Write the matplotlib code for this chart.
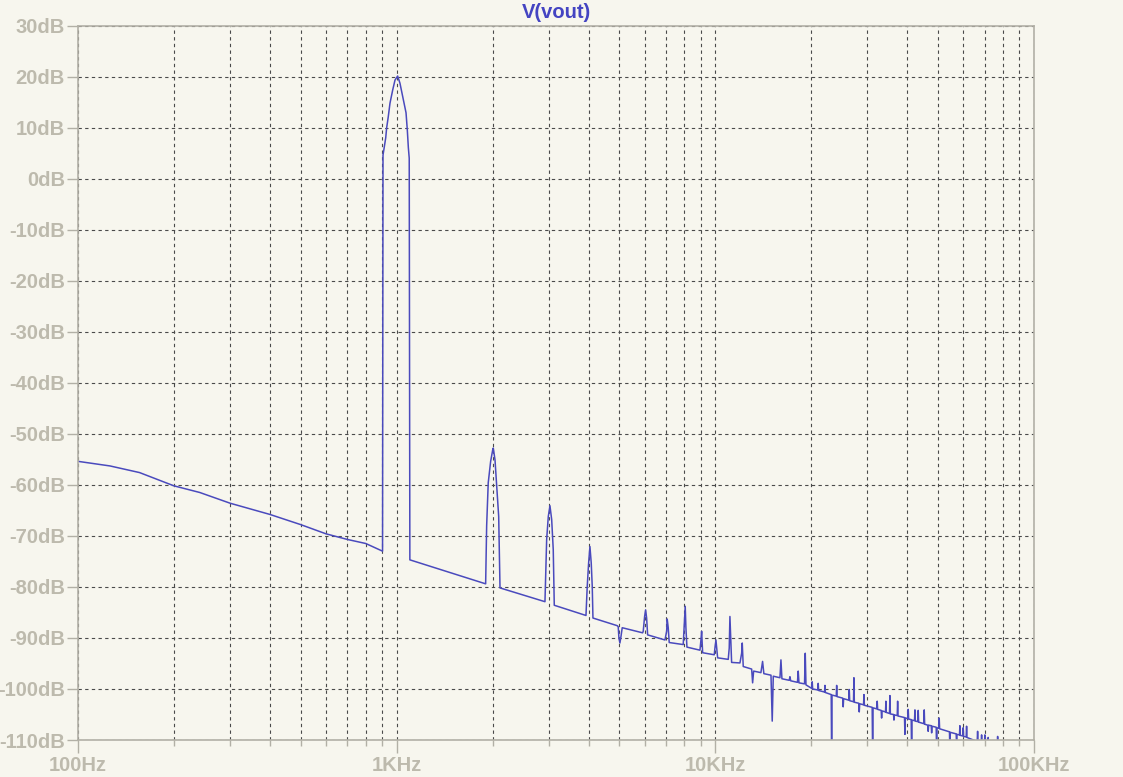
import matplotlib
matplotlib.use("Agg")
import matplotlib.pyplot as plt
import numpy as np
from matplotlib.ticker import NullLocator

BG = "#F7F6EE"
AXIS = "#B2B0A6"
LABEL = "#BDBAAD"
TRACE = "#4A4ABD"
TITLE = "#4444C2"
GRID = "#4A4A4A"

plt.rcParams['font.family'] = ['Liberation Sans', 'DejaVu Sans']
plt.rcParams['font.weight'] = 'bold'

# FFT of V(vout): fundamental at 1kHz plus harmonics
# low band up to the carrier, carrier, then harmonics 2..12
main_freq = [
    100, 126, 156, 200, 241, 300, 400, 500, 600, 700, 800, 903,
    906, 924, 930, 941, 953, 972, 988, 1007, 1024, 1044, 1070, 1080, 1088, 1095, 1100,
    1902, 1916, 1938, 1972, 2001, 2010, 2035, 2060, 2090, 2110,
    2920, 2956, 2991, 3027, 3065, 3100, 3123,
    3927, 3963, 4003, 4041, 4079, 4109, 4130,
    4922, 4957, 4982, 5018, 5055, 5103,
    5913, 5939, 5999, 6043, 6087, 6131,
    6949, 7034, 7063, 7115, 7166,
    7929, 7986, 8045, 8085, 8145,
    8948, 9013, 9057, 9124,
    9922, 9970, 10044, 10167,
    10977, 11056, 11112, 11249,
    11947, 12094, 12147, 12234,
    13000, 13092, 13189,
    13900, 14069, 14200,
    14950, 15084, 15200,
    15950, 16065, 16180,
    17050, 17144, 17240,
    18100, 18200, 18300,
    19050, 19150, 19250,
]
main_db = [
    -55.4, -56.3, -57.6, -60.2, -61.5, -63.6, -65.8, -67.8, -69.6, -70.7, -71.5, -73.0,
    4.6, 8.0, 9.9, 12.1, 14.8, 17.4, 19.3, 20.1, 18.7, 16.1, 12.9, 9.5, 6.1, 4.0, -74.7,
    -79.4, -68.0, -59.6, -55.4, -53.2, -52.8, -55.1, -60.3, -66.2, -80.2,
    -82.9, -70.7, -66.2, -64.1, -66.8, -72.7, -83.6,
    -85.6, -79.9, -75.3, -72.1, -75.3, -79.9, -86.1,
    -87.6, -87.8, -90.0, -91.0, -89.8, -88.0,
    -89.0, -88.7, -85.8, -84.5, -86.1, -89.4,
    -90.4, -88.7, -86.3, -88.0, -90.9,
    -91.3, -87.7, -83.8, -88.0, -91.8,
    -92.4, -90.4, -88.7, -92.9,
    -93.3, -92.0, -90.4, -93.9,
    -94.2, -92.0, -85.8, -94.8,
    -94.9, -93.0, -91.0, -95.6,
    -96.1, -98.8, -96.5,
    -96.8, -94.6, -97.0,
    -97.3, -106.3, -97.5,
    -97.8, -94.3, -98.0,
    -98.3, -97.6, -98.4,
    -98.7, -96.5, -98.8,
    -99.0, -93.0, -99.2,
]

# high band: noise floor with single-bin spikes
hf_freq = [
    20080, 20140, 20200, 20970, 21030, 21090, 22010, 22080, 22150,
    23100, 23170, 23240, 23960, 24030, 24100, 25110, 25190, 25270,
    26240, 26320, 26400, 27140, 27220, 27300, 28200, 28290, 28380,
    29180, 29270, 29360, 31060, 31160, 31260, 32110, 32210, 32310,
    33150, 33250, 33350, 34200, 34300, 34400, 35200, 35310, 35420,
    36240, 36350, 36460, 37220, 37330, 37440, 39230, 39350, 39470,
    40180, 40300, 40420, 41180, 41300, 41420, 42170, 42300, 42430,
    43190, 43320, 43450, 45100, 45240, 45380, 46420, 46560, 46700,
    47590, 47730, 47870, 49330, 49480, 49630, 50260, 50410, 50560,
    54300, 54460, 54620, 56990, 57160, 57330, 58360, 58540, 58720,
    59780, 59960, 60140, 61260, 61440, 61620, 66330, 66530, 66730,
    68270, 68480, 68690, 69920, 70130, 70340, 71610, 71830, 72050,
    76660, 76890, 77120, 80000,
]
hf_db = [
    -99.9, -98.6, -100.0, -100.2, -98.9, -100.3, -100.6, -99.3, -100.7,
    -101.1, -113.0, -101.2, -101.4, -99.3, -101.5, -101.8, -103.5, -101.9,
    -102.2, -100.1, -102.3, -102.5, -97.8, -102.6, -102.8, -104.5, -102.9,
    -103.1, -101.1, -103.2, -103.6, -113.0, -103.7, -103.9, -102.4, -104.0,
    -104.2, -105.7, -104.3, -104.5, -102.4, -104.6, -104.8, -101.3, -104.9,
    -105.0, -106.1, -105.1, -105.2, -102.4, -105.3, -105.6, -108.9, -105.7,
    -105.8, -104.0, -105.9, -106.0, -113.0, -106.1, -106.2, -104.1, -106.3,
    -106.4, -104.2, -106.5, -106.8, -104.1, -106.9, -107.1, -108.3, -107.1,
    -107.2, -108.6, -107.3, -107.5, -113.0, -107.6, -107.7, -105.7, -107.8,
    -108.4, -113.0, -108.5, -108.8, -111.0, -108.9, -109.0, -107.2, -109.1,
    -109.2, -107.6, -109.3, -109.4, -107.3, -109.5, -110.3, -108.3, -110.4,
    -110.6, -109.0, -110.7, -110.8, -109.0, -110.9, -111.0, -109.5, -111.1,
    -111.6, -109.3, -111.7, -112.0,
]

y_ticks = list(range(-110, 31, 10))
y_labels = [f"{v}dB" for v in y_ticks]
x_ticks = [100, 1000, 10000, 100000]
x_labels = ["100Hz", "1KHz", "10KHz", "100KHz"]
x_minor = [m * 10 ** k for k in (2, 3, 4) for m in range(2, 10)]

fig = plt.figure(figsize=(11.23, 7.77), dpi=100, facecolor=BG)
ax = fig.add_axes([78 / 1123, 37 / 777, 956 / 1123, 714.5 / 777])
ax.set_facecolor(BG)
ax.set_xscale('log')

ax.plot(main_freq + hf_freq, main_db + hf_db, color=TRACE, lw=1.1, zorder=2)

ax.set_xlim(100, 100000)
ax.set_ylim(-110, 30)
ax.set_yticks(y_ticks)
ax.set_yticklabels(y_labels)
ax.yaxis.set_minor_locator(NullLocator())
ax.set_xticks(x_ticks)
ax.set_xticklabels(x_labels)
ax.set_xticks(x_minor, minor=True)
ax.set_xticklabels([], minor=True)

ax.set_axisbelow(True)
ax.grid(True, which='both', axis='x', ls=(0, (3, 3)), color=GRID, lw=0.8)
ax.grid(True, which='major', axis='y', ls=(0, (3, 3)), color=GRID, lw=0.8)

ax.tick_params(axis='y', length=8, width=1, color=AXIS, pad=1.5,
               labelcolor=LABEL, labelsize=14.5)
ax.tick_params(axis='x', which='major', length=9, width=1, color=AXIS, pad=2.5,
               labelcolor=LABEL, labelsize=14.5)
ax.tick_params(axis='x', which='minor', length=4, width=1, color=AXIS)
for s in ax.spines.values():
    s.set_color(AXIS)
    s.set_linewidth(1.2)

fig.text(556 / 1123, 1 - 13 / 777, "V(vout)", color=TITLE, fontsize=14.5,
         fontweight='bold', ha='center', va='center')

fig.savefig("out.png", dpi=100, facecolor=BG)
